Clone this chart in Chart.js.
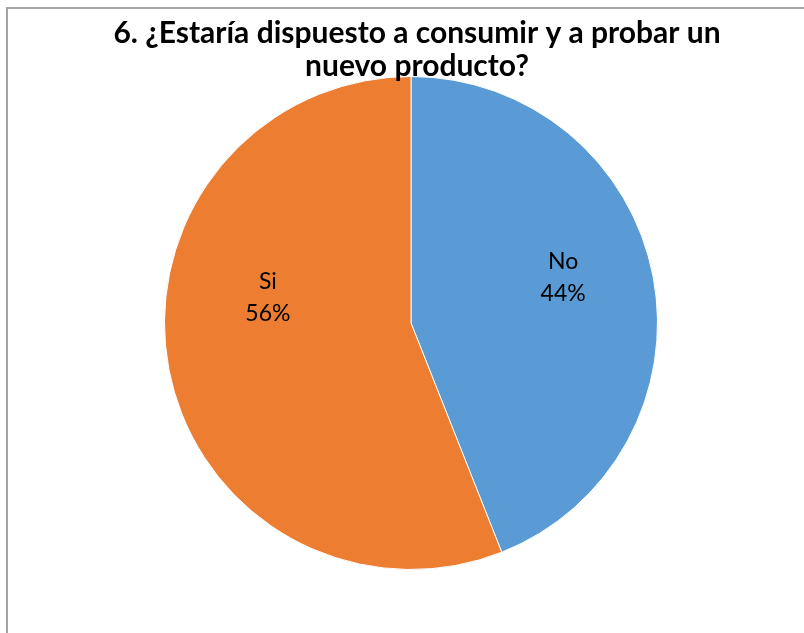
<!DOCTYPE html>
<html>
<head>
<meta charset="utf-8">
<script src="https://cdn.jsdelivr.net/npm/chart.js@4.4.1/dist/chart.umd.min.js"></script>
<style>
  html, body { margin: 0; padding: 0; background: #fff; }
  #wrap { position: relative; width: 804px; height: 633px; }
  #frame {
    position: absolute; left: 6px; top: 7px; right: -10px; bottom: -10px;
    border-left: 2px solid #a3a3a3; border-top: 2px solid #a3a3a3;
    pointer-events: none;
  }
</style>
</head>
<body>
<div id="wrap">
  <canvas id="pieChart"></canvas>
  <div id="frame"></div>
</div>
<script>
// chart data
const categories = ["No", "Si"];
const percentages = [44, 56];
const sliceColors = ["#5B9BD5", "#ED7D31"];
const titleLines = ["6. ¿Estaría dispuesto a consumir y a probar un", "nuevo producto?"];

// small nudges of the data labels relative to the slice centre (Excel "best fit")
const labelNudge = [[2, -17], [7, -54]];

// draws "Categoria\nNN%" inside each slice
const sliceLabels = {
  id: 'sliceLabels',
  afterDatasetsDraw(chart) {
    const ctx = chart.ctx;
    const meta = chart.getDatasetMeta(0);
    ctx.save();
    ctx.fillStyle = '#000';
    ctx.font = '23px Lato';
    ctx.textAlign = 'center';
    ctx.textBaseline = 'middle';
    meta.data.forEach((arc, i) => {
      const mid = (arc.startAngle + arc.endAngle) / 2;
      const r = arc.outerRadius * 0.62;
      const x = arc.x + Math.cos(mid) * r + labelNudge[i][0];
      const y = arc.y + Math.sin(mid) * r + labelNudge[i][1];
      ctx.fillText(categories[i], x, y - 16);
      ctx.fillText(percentages[i] + '%', x, y + 16);
    });
    ctx.restore();
  }
};

// title is painted on top of the pie, like in the original
const overTitle = {
  id: 'overTitle',
  afterDraw(chart) {
    const ctx = chart.ctx;
    ctx.save();
    ctx.fillStyle = '#000';
    ctx.font = 'bold 30px Lato';
    ctx.textAlign = 'center';
    ctx.textBaseline = 'alphabetic';
    ctx.fillText(titleLines[0], 417, 43);
    ctx.fillText(titleLines[1], 417, 76);
    ctx.restore();
  }
};

const ctxPie = document.getElementById('pieChart').getContext('2d');
const pieChart = new Chart(ctxPie, {
  type: 'pie',
  data: {
    labels: categories,
    datasets: [{
      data: percentages,
      backgroundColor: sliceColors,
      borderColor: '#ffffff',
      borderWidth: 1
    }]
  },
  options: {
    responsive: true,
    maintainAspectRatio: false,
    animation: false,
    layout: {
      padding: { left: 164, right: 146, top: 75, bottom: 62 }
    },
    plugins: {
      legend: { display: false },
      title: { display: false },
      tooltip: { enabled: false }
    }
  },
  plugins: [sliceLabels, overTitle]
});
</script>
</body>
</html>
